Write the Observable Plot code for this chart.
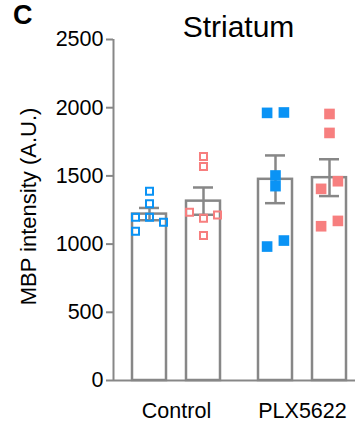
<!DOCTYPE html>
<html>
<head>
<meta charset="utf-8">
<script src="https://cdn.jsdelivr.net/npm/d3@7"></script>
<script src="https://cdn.jsdelivr.net/npm/@observablehq/plot@0.6"></script>
<style>
  html, body { margin: 0; padding: 0; background: #fff; }
  #wrap { position: relative; width: 355px; height: 424px; overflow: hidden;
          font-family: "Liberation Sans", Arial, sans-serif; color: #000; }
  #wrap svg { position: absolute; left: 0; top: 0; }
  #panel { position: absolute; left: 13px; top: 0px; font-weight: bold;
           font-size: 27px; line-height: normal; }
  #title { position: absolute; left: 138.5px; width: 200px; top: 11.6px; text-align: center;
           font-size: 30px; line-height: 30px; }
</style>
</head>
<body>
<div id="wrap"></div>
<script>
// ---- data ----
const groups = ["Control", "PLX5622"];
const series = ["Series A", "Series B"];
const seriesColors = ["#0a93f5", "#f77f7f"];
// bar order: Control-A, Control-B, PLX5622-A, PLX5622-B
const means = [1220, 1315, 1475, 1487];
const sems = [45, 100, 175, 135];
const values = [
  [1388, 1295, 1197, 1197, 1160, 1094],
  [1642, 1569, 1234, 1214, 1190, 1063],
  [1962, 1965, 1503, 1425, 982, 1026],
  [1954, 1815, 1461, 1405, 1131, 1170]
];
const jitter = [
  [0, 0, -1, 0, 1, -1],
  [0, 0, -1, 1, 0, 0],
  [-0.6, 0.6, 0, 0, -0.6, 0.6],
  [0, 0, 0.6, -0.6, -0.6, 0.6]
];
const yTicks = [0, 500, 1000, 1500, 2000, 2500];
const yLabel = "MBP intensity (A.U.)";

// ---- layout ----
const GAP = 126 / 54;      // distance between groups (in bar-spacing units)
const BW = 17 / 54;        // bar half width
const CAP = 10 / 54;       // error-bar cap half width
const JIT = 14 / 54;       // jitter unit
const xDomain = [-36 / 54, 206 / 54];
const gray = "#878787";

const bars = [];
groups.forEach((g, gi) => series.forEach((s, si) => {
  const k = gi * series.length + si;
  bars.push({group: g, series: s, gi, si, pos: gi * GAP + si,
             mean: means[k], lo: means[k] - sems[k], hi: means[k] + sems[k]});
}));
const points = [];
bars.forEach((b, k) => values[k].forEach((v, j) => {
  points.push({...b, value: v, x: b.pos + jitter[k][j] * JIT});
}));
const centers = groups.map((g, gi) => gi * GAP + (series.length - 1) / 2);
const labelOf = new Map(centers.map((c, i) => [c, groups[i]]));

const dotMarks = [];
groups.forEach((g, gi) => series.forEach((s, si) => {
  const filled = gi === 1;
  const data = points.filter(d => d.gi === gi && d.si === si);
  dotMarks.push(Plot.dot(data, filled
    ? {x: "x", y: "value", symbol: "square", r: 6, fill: seriesColors[si], stroke: "none"}
    : {x: "x", y: "value", symbol: "square", r: 3.95, fill: "none", stroke: seriesColors[si], strokeWidth: 2}));
}));

const plot = Plot.plot({
  width: 355,
  height: 424,
  marginTop: 39,
  marginBottom: 44,
  marginLeft: 113,
  marginRight: 0,
  style: {fontFamily: "'Liberation Sans', Arial, sans-serif", fontSize: "21.5px", background: "transparent", color: "#000"},
  x: {domain: xDomain},
  y: {domain: [0, 2500]},
  marks: [
    Plot.rect(bars, {x1: d => d.pos - BW, x2: d => d.pos + BW, y1: 0, y2: "mean",
                     fill: "white", stroke: gray, strokeWidth: 2.5}),
    Plot.ruleX(bars, {x: "pos", y1: "lo", y2: "hi", stroke: gray, strokeWidth: 2.5}),
    Plot.ruleY(bars, {x1: d => d.pos - CAP, x2: d => d.pos + CAP, y: "hi", stroke: gray, strokeWidth: 2.5}),
    Plot.ruleY(bars, {x1: d => d.pos - CAP, x2: d => d.pos + CAP, y: "lo", stroke: gray, strokeWidth: 2.5}),
    Plot.ruleY([0], {stroke: gray, strokeWidth: 2}),
    Plot.ruleX([xDomain[0]], {y1: 0, y2: 2500, stroke: gray, strokeWidth: 2}),
    Plot.axisY(yTicks, {tickSize: 7, tickPadding: 3, stroke: gray, strokeWidth: 2, fill: "#000",
                        fontSize: 21.5, tickFormat: d => String(d), label: null}),
    Plot.axisX(centers, {tickSize: 0, tickPadding: 22, tickFormat: d => labelOf.get(d),
                         fill: "#000", fontSize: 21.5, label: null}),
    Plot.text([yLabel], {text: d => d, frameAnchor: "left", textAnchor: "middle", dx: -85, dy: -3.5,
                         rotate: -90, fontSize: 22, fill: "#000"}),
    ...dotMarks
  ]
});

const wrap = document.getElementById("wrap");
wrap.appendChild(plot);
const panel = document.createElement("div");
panel.id = "panel"; panel.textContent = "C";
const title = document.createElement("div");
title.id = "title"; title.textContent = "Striatum";
wrap.appendChild(panel);
wrap.appendChild(title);
</script>
</body>
</html>
